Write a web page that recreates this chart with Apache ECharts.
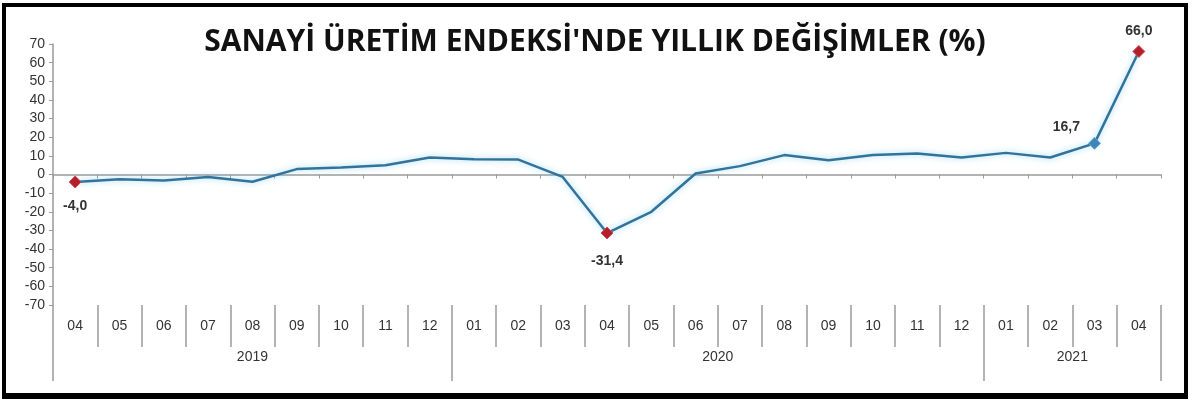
<!DOCTYPE html>
<html>
<head>
<meta charset="utf-8">
<script src="https://cdn.jsdelivr.net/npm/echarts@6/dist/echarts.min.js"></script>
<style>
html,body{margin:0;padding:0;background:#fff;}
#frame{position:absolute;left:2px;top:3px;width:1178px;height:386px;border:4px solid #000;border-bottom-width:6px;background:#fff;}
#chart{position:absolute;left:0;top:0;width:1200px;height:408px;}
</style>
</head>
<body>
<div id="frame"></div>
<div id="chart"></div>
<script>
const titleText = "SANAYİ ÜRETİM ENDEKSİ'NDE YILLIK DEĞİŞİMLER (%)";
const months = ["04","05","06","07","08","09","10","11","12",
                "01","02","03","04","05","06","07","08","09","10","11","12",
                "01","02","03","04"];
const years = ["2019","2020","2021"];
const monthsPerYear = [9, 12, 4];
const values = [-4.0, -2.5, -3.2, -1.3, -3.9, 2.9, 3.8, 5.0, 9.1,
                8.2, 8.0, -1.3, -31.4, -20.0, 0.5, 4.5, 10.4, 7.7, 10.4, 11.3, 9.1,
                11.6, 9.1, 16.7, 66.0];
const highlightRed = [0, 12, 24];
const highlightBlue = [23];

// year boundaries and centers in category units
const yearBounds = [0];
const yearCenters = [];
monthsPerYear.forEach(n => {
  const s = yearBounds[yearBounds.length - 1];
  yearCenters.push(s + n / 2);
  yearBounds.push(s + n);
});

const fmt = v => v.toFixed(1).replace('.', ',');
const labelPos = {0: {position: 'bottom', distance: 11},
                  12: {position: 'bottom', distance: 15},
                  23: {position: 'left', distance: 6, offset: [-2, -16]},
                  24: {position: 'top', distance: 7}};

const seriesData = values.map((v, i) => {
  const isRed = highlightRed.includes(i);
  const isBlue = highlightBlue.includes(i);
  if (!isRed && !isBlue) return {value: v, symbol: 'none'};
  const lp = labelPos[i] || {position: 'top'};
  return {
    value: v,
    symbol: 'diamond',
    symbolSize: 12,
    itemStyle: {color: isRed ? '#b3202c' : '#3f86b8', borderColor: isRed ? '#d04a50' : '#6aa8d6', borderWidth: 1},
    label: Object.assign({show: true, formatter: p => fmt(p.value), color: '#333', fontSize: 14, fontWeight: 'bold', fontFamily: 'Liberation Sans'}, lp)
  };
});

const chart = echarts.init(document.getElementById('chart'), null, {renderer: 'canvas'});
const axisGray = '#9a9a9a';
const tickFont = {color: '#333', fontSize: 14, fontFamily: 'Liberation Sans'};
chart.setOption({
  animation: false,
  backgroundColor: 'transparent',
  title: {
    text: titleText,
    left: 590, top: 22, textAlign: 'center',
    textStyle: {fontFamily: 'Open Sans', fontWeight: 'bold', fontSize: 30, color: '#111'}
  },
  grid: {left: 53, right: 39, top: 44, bottom: 103, containLabel: false},
  xAxis: [
    {
      type: 'category', data: months, position: 'bottom', boundaryGap: true,
      axisLine: {show: true, onZero: true, lineStyle: {color: axisGray, width: 1.5}},
      axisTick: {show: true, inside: false, length: 4, lineStyle: {color: axisGray}},
      axisLabel: {show: false}, splitLine: {show: false}
    },
    {
      type: 'category', data: months, position: 'bottom', boundaryGap: true,
      axisLine: {show: false, onZero: false},
      axisTick: {show: true, length: 42, lineStyle: {color: axisGray, width: 1.5}},
      axisLabel: Object.assign({show: true, margin: 14}, tickFont),
      splitLine: {show: false}
    },
    {
      type: 'value', min: 0, max: months.length, position: 'bottom',
      axisLine: {show: false, onZero: false},
      axisTick: {show: true, length: 76, customValues: yearBounds, lineStyle: {color: axisGray, width: 1.5}},
      axisLabel: Object.assign({show: true, margin: 45, customValues: yearCenters,
        formatter: v => { const k = yearCenters.indexOf(v); return k >= 0 ? years[k] : ''; }}, tickFont),
      splitLine: {show: false}
    }
  ],
  yAxis: {
    type: 'value', min: -70, max: 70, interval: 10,
    axisLine: {show: true, lineStyle: {color: axisGray, width: 1.5}},
    axisTick: {show: true, inside: false, length: 4, lineStyle: {color: axisGray}},
    axisLabel: Object.assign({margin: 8, formatter: v => String(v)}, tickFont),
    splitLine: {show: false}
  },
  series: [{
    type: 'line', xAxisIndex: 0, yAxisIndex: 0,
    data: seriesData,
    showSymbol: true,
    lineStyle: {color: '#31739a', width: 2.5, shadowColor: 'rgba(110,200,235,0.7)', shadowBlur: 6},
    itemStyle: {color: '#31739a'},
    z: 3
  }]
});
</script>
</body>
</html>
